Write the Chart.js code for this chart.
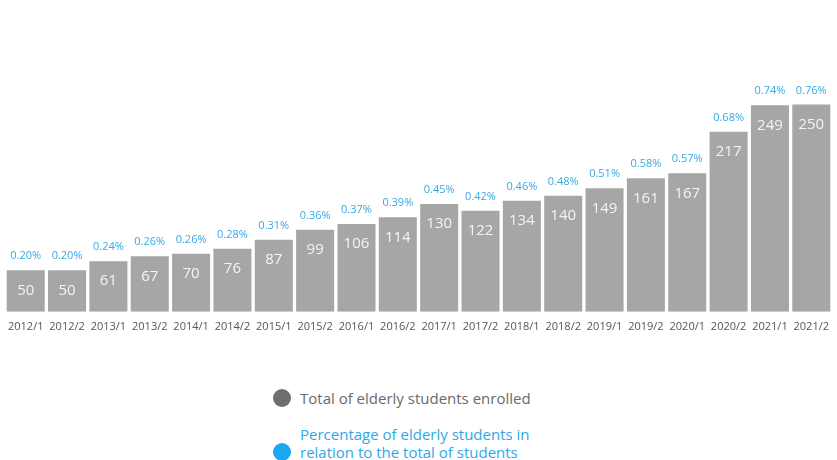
<!DOCTYPE html>
<html>
<head>
<meta charset="utf-8">
<script src="https://cdn.jsdelivr.net/npm/chart.js@4"></script>
<style>
  html, body { margin: 0; padding: 0; background: #ffffff; }
  body { width: 837px; height: 460px; overflow: hidden; font-family: "Open Sans", sans-serif; }
  #wrap { position: relative; width: 837px; height: 341px; }
  .legend { position: absolute; left: 273px; font-size: 15px; line-height: 18px; }
  .legend .dot { position: absolute; left: 0; width: 18px; height: 18px; border-radius: 50%; }
  .legend .txt { position: absolute; left: 27px; white-space: nowrap; }
</style>
</head>
<body>
<div id="wrap"><canvas id="chartElderly"></canvas></div>
<div class="legend" style="top:389px;">
  <span class="dot" style="background:#6e6e6e;top:0;"></span>
  <span class="txt" style="color:#6a6a6a;top:0;">Total of elderly students enrolled</span>
</div>
<div class="legend" style="top:425px;">
  <span class="dot" style="background:#1ea6f2;top:18px;"></span>
  <span class="txt" style="color:#2ea8ea;top:0;">Percentage of elderly students in<br>relation to the total of students</span>
</div>
<script>
const semesters = ["2012/1", "2012/2", "2013/1", "2013/2", "2014/1", "2014/2", "2015/1", "2015/2", "2016/1", "2016/2",
    "2017/1", "2017/2", "2018/1", "2018/2", "2019/1", "2019/2", "2020/1", "2020/2", "2021/1", "2021/2"];
const totalElderly = [50, 50, 61, 67, 70, 76, 87, 99, 106, 114, 130, 122, 134, 140, 149, 161, 167, 217, 249, 250];
const percentElderly = [0.20, 0.20, 0.24, 0.26, 0.26, 0.28, 0.31, 0.36, 0.37, 0.39, 0.45, 0.42, 0.46, 0.48, 0.51, 0.58, 0.57, 0.68, 0.74, 0.76];

const barLabels = {
    id: 'barLabels',
    afterDatasetsDraw(chart) {
        const ctx = chart.ctx;
        const meta = chart.getDatasetMeta(0);
        ctx.save();
        ctx.textAlign = 'center';
        ctx.textBaseline = 'middle';
        meta.data.forEach((bar, i) => {
            ctx.font = '15px "Open Sans"';
            ctx.fillStyle = '#f4f4f4';
            ctx.fillText(totalElderly[i], bar.x, bar.y + 20);
            ctx.font = '11px "Open Sans"';
            ctx.fillStyle = '#35aae6';
            ctx.fillText(percentElderly[i].toFixed(2) + '%', bar.x, bar.y - 14);
        });
        ctx.restore();
    }
};

const ctx = document.getElementById("chartElderly").getContext('2d');
new Chart(ctx, {
    type: "bar",
    data: {
        labels: semesters,
        datasets: [{
            data: totalElderly,
            backgroundColor: '#a6a6a6',
            borderWidth: 0,
            barPercentage: 0.92,
            categoryPercentage: 1.0
        }]
    },
    options: {
        responsive: true,
        maintainAspectRatio: false,
        animation: false,
        layout: {
            padding: { left: 4, right: 0, top: 0, bottom: 0 }
        },
        scales: {
            x: {
                grid: { display: false, drawTicks: false },
                border: { display: false },
                ticks: {
                    color: '#555555',
                    padding: 8,
                    maxRotation: 0,
                    autoSkip: false,
                    font: { family: 'Open Sans', size: 11 }
                }
            },
            y: {
                display: false,
                min: 0,
                max: 376
            }
        },
        plugins: {
            legend: { display: false },
            tooltip: { enabled: false }
        }
    },
    plugins: [barLabels]
});
</script>
</body>
</html>
